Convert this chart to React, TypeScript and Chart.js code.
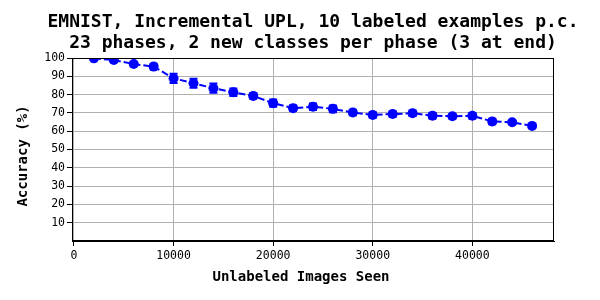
import React, { useEffect, useRef } from "react";
import { Chart, registerables } from "chart.js";

Chart.register(...registerables);

const titleLines = [
  "EMNIST, Incremental UPL, 10 labeled examples p.c.",
  "23 phases, 2 new classes per phase (3 at end)",
];
const xLabel = "Unlabeled Images Seen";
const yLabel = "Accuracy (%)";

const imagesSeen = [
  2000, 4000, 6000, 8000, 10000, 12000, 14000, 16000, 18000, 20000, 22000, 24000,
  26000, 28000, 30000, 32000, 34000, 36000, 38000, 40000, 42000, 44000, 46000,
];
const accuracy = [
  99.8, 98.9, 96.7, 95.3, 88.9, 86.2, 83.5, 81.3, 79.3, 75.3, 72.6, 73.4,
  72.2, 70.2, 68.9, 69.4, 69.8, 68.5, 68.2, 68.4, 65.3, 64.9, 62.9,
];
const accuracyErr = [
  0.5, 1.0, 1.0, 1.5, 2.5, 2.5, 2.5, 2.0, 1.5, 2.0, 1.5, 1.8,
  1.8, 1.5, 1.5, 1.5, 1.5, 1.5, 1.2, 1.5, 1.5, 1.0, 1.0,
];
const xTicks = [0, 10000, 20000, 30000, 40000];
const yTicks = [10, 20, 30, 40, 50, 60, 70, 80, 90, 100];

const MONO = "'DejaVu Sans Mono', monospace";
const BLUE = "#0000ff";

const errorBarPlugin = {
  id: "errorBars",
  afterDatasetsDraw(chart: any) {
    const ctx = chart.ctx;
    const xs = chart.scales.x;
    const ys = chart.scales.y;
    const area = chart.chartArea;
    ctx.save();
    ctx.beginPath();
    ctx.rect(area.left, area.top, area.right - area.left, area.bottom - area.top);
    ctx.clip();
    ctx.strokeStyle = BLUE;
    ctx.lineWidth = 2;
    ctx.setLineDash([]);
    imagesSeen.forEach((x, i) => {
      const px = xs.getPixelForValue(x);
      const y1 = ys.getPixelForValue(accuracy[i] - accuracyErr[i]);
      const y2 = ys.getPixelForValue(accuracy[i] + accuracyErr[i]);
      ctx.beginPath();
      ctx.moveTo(px, y1);
      ctx.lineTo(px, y2);
      ctx.moveTo(px - 4, y1);
      ctx.lineTo(px + 4, y1);
      ctx.moveTo(px - 4, y2);
      ctx.lineTo(px + 4, y2);
      ctx.stroke();
    });
    ctx.restore();
  },
};

const textPlugin = {
  id: "texts",
  afterDraw(chart: any) {
    const ctx = chart.ctx;
    const a = chart.chartArea;
    ctx.save();
    ctx.strokeStyle = "#000";
    ctx.lineWidth = 1;
    ctx.strokeRect(Math.round(a.left) + 0.5, Math.round(a.top) + 0.5,
      Math.round(a.right - a.left) - 1, Math.round(a.bottom - a.top) - 1);
    ctx.fillStyle = "#000";
    ctx.textAlign = "center";
    ctx.textBaseline = "middle";
    ctx.font = `bold 18px ${MONO}`;
    const cx = (a.left + a.right) / 2;
    ctx.fillText(titleLines[0], cx, 22);
    ctx.fillText(titleLines[1], cx, 43);
    ctx.font = `bold 14px ${MONO}`;
    ctx.fillText(xLabel, 301, 277);
    ctx.translate(23, 156);
    ctx.rotate(-Math.PI / 2);
    ctx.fillText(yLabel, 0, 0);
    ctx.restore();
  },
};

export default function App() {
  const ref = useRef<HTMLCanvasElement>(null);
  useEffect(() => {
    if (!ref.current) return;
    const chart = new Chart(ref.current, {
      type: "line",
      data: {
        datasets: [
          {
            data: imagesSeen.map((x, i) => ({ x, y: accuracy[i] })),
            borderColor: BLUE,
            backgroundColor: BLUE,
            borderWidth: 2,
            borderDash: [7, 3],
            pointRadius: 5,
            pointBorderWidth: 0,
            pointBackgroundColor: BLUE,
            tension: 0,
          },
        ],
      },
      options: {
        responsive: false,
        animation: false,
        layout: { padding: { left: 0, right: 46, top: 58, bottom: 0 } },
        plugins: {
          legend: { display: false },
          tooltip: { enabled: false },
          title: { display: false },
        },
        scales: {
          x: {
            type: "linear",
            min: -200,
            max: 48200,
            afterFit: (s: any) => { s.height = 59; },
            afterBuildTicks: (s: any) => { s.ticks = xTicks.map((v) => ({ value: v })); },
            ticks: {
              color: "#000",
              font: { family: MONO, size: 11.5 },
              padding: 3,
              maxRotation: 0,
              callback: (v: any) => String(v),
            },
            grid: { color: "#b0b0b0", lineWidth: 1, tickLength: 5, tickColor: "#000" },
            border: { color: "#000", width: 1 },
          },
          y: {
            type: "linear",
            min: 0,
            max: 100,
            afterFit: (s: any) => { s.width = 72; s.paddingTop = 0; s.paddingBottom = 0; },
            afterBuildTicks: (s: any) => { s.ticks = yTicks.map((v) => ({ value: v })); },
            ticks: {
              color: "#000",
              font: { family: MONO, size: 11.5 },
              padding: 2,
              callback: (v: any) => String(v),
            },
            grid: { color: "#b0b0b0", lineWidth: 1, tickLength: 5, tickColor: "#000" },
            border: { color: "#000", width: 1 },
          },
        },
      },
      plugins: [errorBarPlugin, textPlugin],
    });
    return () => chart.destroy();
  }, []);
  return (
    <div style={{ position: "absolute", left: 0, top: 0, width: 600, height: 300, background: "#fff" }}>
      <canvas ref={ref} width={600} height={300} />
    </div>
  );
}
